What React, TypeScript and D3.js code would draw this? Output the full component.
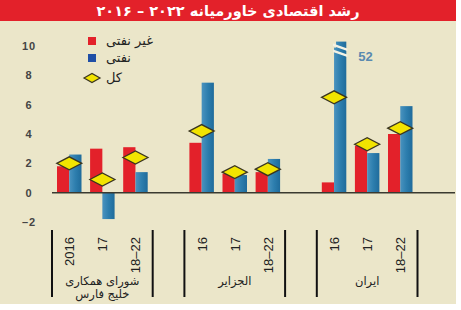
import React from "react";
import * as d3 from "d3";

const title = "رشد اقتصادی خاورمیانه ۲۰۲۲ – ۲۰۱۶";
const groups = ["شورای همکاری|خلیج فارس", "الجزایر", "ایران"];
const periods = [
  ["2016", "17", "18–22"],
  ["16", "17", "18–22"],
  ["16", "17", "18–22"],
];
const nonOil = [
  [1.8, 3.0, 3.1],
  [3.4, 1.3, 1.4],
  [0.7, 3.2, 4.0],
];
const oil = [
  [2.6, -1.8, 1.4],
  [7.5, 1.2, 2.3],
  [52, 2.7, 5.9],
];
const total = [
  [2.0, 0.9, 2.4],
  [4.2, 1.4, 1.6],
  [6.5, 3.3, 4.4],
];
const yTicks = [-2, 0, 2, 4, 6, 8, 10];
const legendLabels = ["غیر نفتی", "نفتی", "کل"];
const axisCap = 10.3;

const W = 461;
const H = 310;
const RED = "#e3212a";
const BG = "#ebe6c9";
const ARFONT = "'DejaVu Sans', sans-serif";
const NUMFONT = "'Liberation Sans', Arial, sans-serif";

export default function App() {
  const y = d3.scaleLinear().domain([-2, 10]).range([222, 46]);
  const slots: string[] = [];
  groups.forEach((_, g) => {
    periods[g].forEach((_, i) => slots.push(`${g}-${i}`));
    if (g < groups.length - 1) slots.push(`gap${g}`);
  });
  const x = d3.scaleBand<string>().domain(slots).range([57, 412.5]).paddingInner(0.26).paddingOuter(0);
  const bw = x.bandwidth();
  const inner = d3.scaleBand<string>().domain(["nonOil", "oil"]).range([0, bw]).padding(0);
  const ib = inner.bandwidth();
  const y0 = y(0);

  const diamond = (cx: number, cy: number, w: number, h: number) =>
    `M${cx - w / 2},${cy} L${cx},${cy - h / 2} L${cx + w / 2},${cy} L${cx},${cy + h / 2} Z`;

  const bars: React.ReactNode[] = [];
  const diamonds: React.ReactNode[] = [];
  const catLabels: React.ReactNode[] = [];
  const extras: React.ReactNode[] = [];

  groups.forEach((_, g) => {
    periods[g].forEach((p, i) => {
      const key = `${g}-${i}`;
      const x0 = x(key)!;
      const vals = [nonOil[g][i], oil[g][i]];
      (["nonOil", "oil"] as const).forEach((s, k) => {
        const v = vals[k];
        const capped = v > axisCap;
        const vv = capped ? axisCap : v;
        const top = Math.min(y(vv), y0);
        const h = Math.abs(y(vv) - y0);
        const bx = x0 + inner(s)!;
        bars.push(
          <rect key={`${key}-${s}`} x={bx} y={top} width={ib} height={h} fill={s === "nonOil" ? RED : "url(#blueGrad)"} />
        );
        if (capped) {
          const sy = y(vv);
          // trim top corners to narrow the break cap
          extras.push(
            <rect key="brkTrim" x={bx - 1} y={sy - 1} width={3} height={7} fill={BG} />
          );
          [3, 9].forEach((off, j) =>
            extras.push(
              <path
                key={`brk${j}`}
                d={`M${bx - 1},${sy + off - 1} L${bx + ib + 1},${sy + off + 4} L${bx + ib + 1},${sy + off + 6.5} L${bx - 1},${sy + off + 1.5} Z`}
                fill="#f4f2e4"
              />
            )
          );
          extras.push(
            <text key="capv" x={bx + ib + 12} y={sy + 19} fill="#5a8ab0" fontFamily={NUMFONT} fontWeight="bold" fontSize={13}>
              {v}
            </text>
          );
        }
      });
      diamonds.push(
        <path key={`d${key}`} d={diamond(x0 + bw / 2, y(total[g][i]), 25, 13)} fill="#f2e400" stroke="#3a3520" strokeWidth={1.3} />
      );
      const cx = x0 + bw / 2;
      catLabels.push(
        <text
          key={`c${key}`}
          transform={`translate(${cx + 5},${237}) rotate(-90)`}
          textAnchor="end"
          fontFamily={NUMFONT}
          fontSize={13}
          fill="#222"
        >
          {p}
        </text>
      );
    });
  });

  const sepLines: React.ReactNode[] = [];
  const groupLabels: React.ReactNode[] = [];
  groups.forEach((name, g) => {
    const left = x(`${g}-0`)! - 5;
    const right = x(`${g}-2`)! + bw + 5;
    [left, right].forEach((lx, j) =>
      sepLines.push(<line key={`s${g}-${j}`} x1={lx} x2={lx} y1={230} y2={297} stroke="#111" strokeWidth={2} />)
    );
    const lines = name.split("|");
    lines.forEach((ln, j) =>
      groupLabels.push(
        <text
          key={`g${g}-${j}`}
          x={(left + right) / 2}
          y={285 + j * 13}
          textAnchor="middle"
          direction="rtl"
          fontFamily={ARFONT}
          fontSize={11.5}
          fill="#222"
        >
          {ln}
        </text>
      )
    );
  });

  return (
    <svg width={W} height={H} style={{ position: "absolute", left: 0, top: 0 }}>
      <defs>
        <linearGradient id="blueGrad" x1="0" x2="1" y1="0" y2="0">
          <stop offset="0" stopColor="#4a93bf" />
          <stop offset="0.5" stopColor="#2d7eae" />
          <stop offset="1" stopColor="#1f6b9b" />
        </linearGradient>
      </defs>
      <rect x={0} y={0} width={W} height={H} fill="#fff" />
      <rect x={0} y={21} width={456} height={283} fill={BG} />
      <rect x={0} y={0} width={456} height={21} fill={RED} />
      <text x={228} y={16} textAnchor="middle" direction="rtl" fill="#fff" fontFamily={ARFONT} fontWeight="bold" fontSize={14.5}>
        {title}
      </text>

      {yTicks.map((t) => (
        <text
          key={t}
          x={29}
          y={y(t) + 4}
          textAnchor="middle"
          fontFamily={NUMFONT}
          fontWeight="bold"
          fontSize={11}
          letterSpacing={1}
          fill="#444"
        >
          {t < 0 ? `–${Math.abs(t)}` : t}
        </text>
      ))}

      {bars}
      {extras}
      <line x1={52} x2={455} y1={y0} y2={y0} stroke="#3a3a30" strokeWidth={1.5} />
      {diamonds}

      {/* legend */}
      <rect x={88} y={37} width={8} height={8} fill={RED} />
      <rect x={88} y={54} width={8} height={8} fill="#1f4fa6" />
      <path d={diamond(92, 78, 16, 9)} fill="#f2e400" stroke="#3a3520" strokeWidth={1.2} />
      {legendLabels.map((l, i) => (
        <text key={l} x={106} y={[45, 62, 82][i]} fontFamily={ARFONT} fontSize={13} fill="#222">
          {l}
        </text>
      ))}

      {catLabels}
      {sepLines}
      {groupLabels}
    </svg>
  );
}
